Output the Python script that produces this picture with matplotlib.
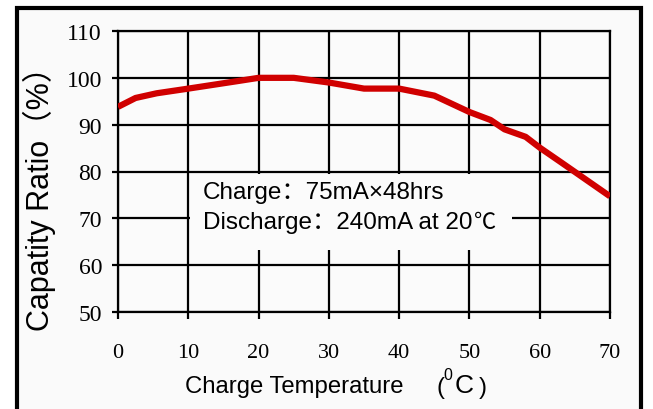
#!/usr/bin/env python3
"""Capacity ratio vs. charge temperature chart."""

import matplotlib

matplotlib.use("Agg")

import matplotlib.pyplot as plt
from matplotlib import font_manager
from matplotlib.patches import Rectangle

# data
temps = [0, 2.5, 5.5, 10, 17, 20, 25, 30, 35, 40, 45, 50, 53, 55, 58, 60, 63, 70]
ratio = [93.8, 95.7, 96.7, 97.7, 99.3, 100, 100, 99, 97.7, 97.7, 96.2, 92.7,
         91.0, 89.0, 87.4, 85.1, 82.0, 74.7]

x_ticks = [0, 10, 20, 30, 40, 50, 60, 70]
y_ticks = [50, 60, 70, 80, 90, 100, 110]

note_charge = "Charge：75mA×48hrs"
note_discharge = "Discharge：240mA at 20"

W, H = 653, 410

names = {f.name for f in font_manager.fontManager.ttflist}
narrow = "Liberation Sans Narrow" if "Liberation Sans Narrow" in names else "Liberation Sans"
narrow_size = 20 if narrow == "Liberation Sans Narrow" else 17.2
sans = ["Liberation Sans", "Noto Sans CJK SC"]


def fx(px):
    return px / W


def fy(py):
    return 1 - py / H


fig = plt.figure(figsize=(W / 100, H / 100), dpi=100, facecolor="white")

# outer frame (open at the bottom, runs past the edge)
frame = Rectangle((fx(17), -0.2), fx(641) - fx(17), fy(8.5) + 0.2,
                  transform=fig.transFigure, facecolor="#fafafa",
                  edgecolor="black", linewidth=3, zorder=-5)
fig.patches.append(frame)

ax = fig.add_axes([fx(118), fy(313), fx(610) - fx(118), fy(32) - fy(313)])
ax.set_facecolor("#fbfbfb")

ax.plot(temps, ratio, color="#d00000", linewidth=4.5, solid_capstyle="butt",
        solid_joinstyle="round", zorder=5)

ax.set_xlim(0, 70)
ax.set_ylim(50, 110)
ax.set_xticks(x_ticks)
ax.set_yticks(y_ticks)
ax.grid(True, color="black", linewidth=1.6)
ax.set_axisbelow(True)
for sp in ax.spines.values():
    sp.set_linewidth(1.6)

ax.tick_params(axis="x", direction="out", length=5, width=1.6, pad=17,
               labelsize=16)
ax.tick_params(axis="y", direction="out", length=4.5, width=1.6, pad=7,
               labelsize=17)
for lab in ax.get_xticklabels() + ax.get_yticklabels():
    lab.set_family("Liberation Serif")

# white box behind the note, hiding the grid
ax.add_patch(Rectangle((10.25, 63.3), 56.0 - 10.25, 79.4 - 63.3,
                       facecolor="#fbfbfb", edgecolor="none", zorder=2))
ax.text(fx(203), fy(193), note_charge, transform=fig.transFigure,
        family=sans, fontsize=17.5, ha="left", va="center", zorder=6)
t2 = ax.text(fx(203), fy(223), note_discharge, transform=fig.transFigure,
             family=sans, fontsize=17.5, ha="left", va="center", zorder=6)
ax.annotate("℃", xy=(1, 0), xycoords=t2, xytext=(1, 0),
            textcoords="offset points", family="Noto Sans CJK SC",
            fontsize=16, ha="left", va="bottom", zorder=6)

# axis titles
fig.text(fx(39), fy(191), "Capatity Ratio（%）", rotation=90, family=sans,
         fontsize=22, ha="center", va="center")
fig.text(fx(294), fy(393), "Charge Temperature", family=narrow,
         fontsize=narrow_size, ha="center", va="baseline")
fig.text(fx(440), fy(394), "(", family="Liberation Sans", fontsize=17,
         ha="center", va="baseline")
fig.text(fx(447.5), fy(380), "0", family=narrow, fontsize=11.5, ha="center",
         va="baseline")
fig.text(fx(464), fy(393), "C", family="Liberation Sans", fontsize=19,
         ha="center", va="baseline")
fig.text(fx(483), fy(394), ")", family="Liberation Sans", fontsize=17,
         ha="center", va="baseline")

fig.savefig("out.png", dpi=100, facecolor="white")
